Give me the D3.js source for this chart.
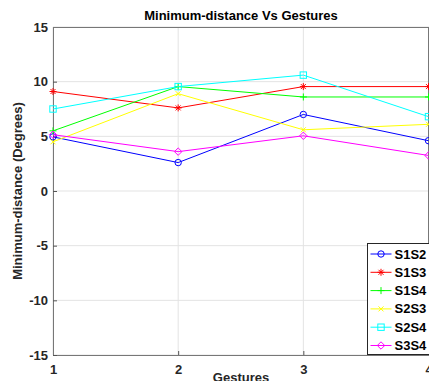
<!DOCTYPE html>
<html>
<head>
<meta charset="utf-8">
<script src="https://cdn.jsdelivr.net/npm/d3@7"></script>
<style>
body { margin: 0; background: #fff; }
svg { display: block; font-family: "Liberation Sans", Arial, sans-serif; }
</style>
</head>
<body>
<script>
var gestures = [1, 2, 3, 4];
var yTicks = [-15, -10, -5, 0, 5, 10, 15];
var seriesNames = ['S1S2', 'S1S3', 'S1S4', 'S2S3', 'S2S4', 'S3S4'];
var seriesColors = ['#0000ff', '#ff0000', '#00ff00', '#ffff00', '#00ffff', '#ff00ff'];
var seriesMarkers = ['circle', 'star', 'plus', 'cross', 'square', 'diamond'];
var s1s2 = [4.95, 2.6, 7.0, 4.6];
var s1s3 = [9.1, 7.6, 9.55, 9.55];
var s1s4 = [5.5, 9.55, 8.6, 8.6];
var s2s3 = [4.5, 8.9, 5.6, 6.1];
var s2s4 = [7.5, 9.55, 10.6, 6.8];
var s3s4 = [5.15, 3.6, 5.05, 3.25];
var seriesValues = [s1s2, s1s3, s1s4, s2s3, s2s4, s3s4];

var W = 429, H = 381;
var margin = { left: 53, right: 0, top: 27, bottom: 26 };
var width = W - margin.left - margin.right;
var height = H - margin.top - margin.bottom;

var svg = d3.select('body').append('svg').attr('width', W).attr('height', H);
var g = svg.append('g').attr('transform', 'translate(' + margin.left + ',' + margin.top + ')');

var x = d3.scaleLinear().domain([1, 4]).range([0, width - 0.5]);
var y = d3.scaleLinear().domain([-15, 15]).range([height, 0]);

// grid
g.selectAll('.gx').data(gestures).enter().append('line')
	.attr('x1', function(d) { return x(d); }).attr('x2', function(d) { return x(d); })
	.attr('y1', 0).attr('y2', height)
	.attr('stroke', '#e3e3e3').attr('stroke-width', 1);
g.selectAll('.gy').data(yTicks).enter().append('line')
	.attr('y1', function(d) { return y(d); }).attr('y2', function(d) { return y(d); })
	.attr('x1', 0).attr('x2', width)
	.attr('stroke', '#e3e3e3').attr('stroke-width', 1);

// axes (plain hyphen for negatives, like the original)
var plain = function(d) { return String(d); };
var xAxis = d3.axisBottom(x).tickValues(gestures).tickSize(-4).tickPadding(10).tickFormat(plain);
var yAxis = d3.axisLeft(y).tickValues(yTicks).tickSize(-4).tickPadding(5).tickFormat(plain);
var xa = g.append('g').attr('transform', 'translate(0,' + height + ')').call(xAxis);
var ya = g.append('g').call(yAxis);
[xa, ya].forEach(function(a) {
	a.select('.domain').attr('stroke', '#777');
	a.selectAll('.tick line').attr('stroke', '#555');
	a.selectAll('text').attr('font-size', '13px').attr('font-weight', 'bold')
		.attr('fill', '#262626').attr('font-family', '"Liberation Sans", Arial, sans-serif');
});
// rest of the box
g.append('line').attr('x1', width - 0.5).attr('x2', width - 0.5).attr('y1', 0).attr('y2', height).attr('stroke', '#777');
g.append('line').attr('x1', 0).attr('x2', width).attr('y1', 0.5).attr('y2', 0.5).attr('stroke', '#777');

function marker(sel, type, color) {
	var s = 3.2;
	if (type === 'circle') {
		sel.append('circle').attr('r', s).attr('fill', 'none').attr('stroke', color);
	} else if (type === 'square') {
		sel.append('rect').attr('x', -s).attr('y', -s).attr('width', 2 * s).attr('height', 2 * s)
			.attr('fill', 'none').attr('stroke', color);
	} else if (type === 'diamond') {
		sel.append('path').attr('d', 'M0,' + (-s - 0.5) + 'L' + (s + 0.5) + ',0L0,' + (s + 0.5) + 'L' + (-s - 0.5) + ',0Z')
			.attr('fill', 'none').attr('stroke', color);
	} else if (type === 'plus') {
		sel.append('path').attr('d', 'M0,-3.5V3.5M-3.5,0H3.5').attr('stroke', color);
	} else if (type === 'cross') {
		sel.append('path').attr('d', 'M-2.5,-2.5L2.5,2.5M-2.5,2.5L2.5,-2.5').attr('stroke', color);
	} else if (type === 'star') {
		sel.append('path').attr('d', 'M0,-3.5V3.5M-3.5,0H3.5M-2.5,-2.5L2.5,2.5M-2.5,2.5L2.5,-2.5')
			.attr('stroke', color);
	}
}

var line = d3.line()
	.x(function(d, i) { return x(gestures[i]); })
	.y(function(d) { return y(d); });

seriesValues.forEach(function(vals, k) {
	var c = seriesColors[k];
	g.append('path').datum(vals).attr('d', line).attr('fill', 'none').attr('stroke', c).attr('stroke-width', 1);
	vals.forEach(function(v, i) {
		var m = g.append('g').attr('transform', 'translate(' + x(gestures[i]) + ',' + y(v) + ')');
		marker(m, seriesMarkers[k], c);
	});
});

// title and labels
svg.append('text').attr('x', margin.left + width / 2).attr('y', 20)
	.attr('text-anchor', 'middle').attr('font-size', '13px').attr('font-weight', 'bold')
	.attr('fill', '#000').text('Minimum-distance Vs Gestures');
svg.append('text').attr('x', margin.left + width / 2).attr('y', 382)
	.attr('text-anchor', 'middle').attr('font-size', '13px').attr('font-weight', 'bold')
	.attr('fill', '#262626').text('Gestures');
svg.append('text').attr('transform', 'translate(22,' + (margin.top + y(0)) + ') rotate(-90)')
	.attr('text-anchor', 'middle').attr('font-size', '13px').attr('font-weight', 'bold')
	.attr('fill', '#262626').text('Minimum-distance (Degrees)');

// legend
var lg = svg.append('g').attr('transform', 'translate(367.5,243.5)');
lg.append('rect').attr('width', 70).attr('height', 111).attr('fill', '#fff').attr('stroke', '#262626');
seriesNames.forEach(function(name, k) {
	var yy = 10.5 + k * 18.3;
	lg.append('line').attr('x1', 3).attr('x2', 24).attr('y1', yy).attr('y2', yy).attr('stroke', seriesColors[k]);
	marker(lg.append('g').attr('transform', 'translate(13.5,' + yy + ')'), seriesMarkers[k], seriesColors[k]);
	lg.append('text').attr('x', 27).attr('y', yy + 4.5).attr('font-size', '13px').attr('font-weight', 'bold')
		.attr('fill', '#000').text(name);
});
</script>
</body>
</html>
